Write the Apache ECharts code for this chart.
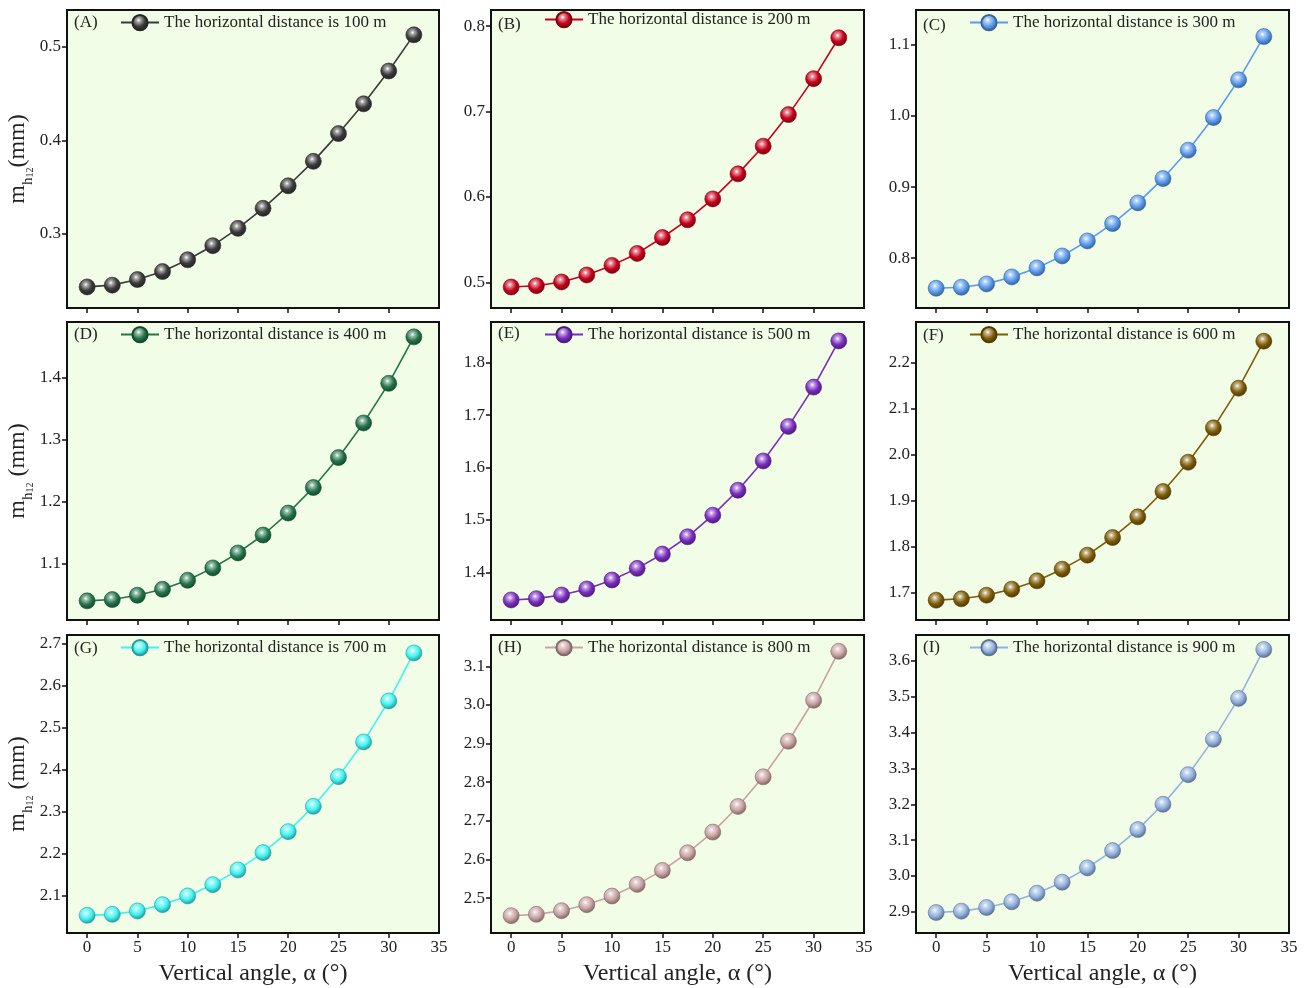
<!DOCTYPE html>
<html>
<head>
<meta charset="utf-8">
<title>Vertical angle vs m_h12</title>
<script src="https://cdn.jsdelivr.net/npm/echarts@6/dist/echarts.min.js"></script>
<style>
  html, body { margin: 0; padding: 0; background: #ffffff; }
  #chart { width: 1314px; height: 988px; }
</style>
</head>
<body>
<div id="chart"></div>
<script>
// Vertical angle (degrees) shared by every panel
const angles = [0, 2.5, 5, 7.5, 10, 12.5, 15, 17.5, 20, 22.5, 25, 27.5, 30, 32.5];

// m_h12 (mm) for each horizontal distance
const d100 = [0.2435, 0.2454, 0.2514, 0.2599, 0.2725, 0.2875, 0.3060, 0.3274, 0.3514, 0.3775, 0.4071, 0.4389, 0.4739, 0.5125];
const d200 = [0.4946, 0.4961, 0.5005, 0.5087, 0.5199, 0.5339, 0.5526, 0.5733, 0.5978, 0.6271, 0.6595, 0.6965, 0.7386, 0.7865];
const d300 = [0.7578, 0.7592, 0.7639, 0.7737, 0.7864, 0.8032, 0.8243, 0.8487, 0.8778, 0.9120, 0.9519, 0.9978, 1.0508, 1.1117];
const d400 = [1.0399, 1.0420, 1.0490, 1.0586, 1.0731, 1.0931, 1.1172, 1.1462, 1.1816, 1.2229, 1.2712, 1.3271, 1.3910, 1.4660];
const d500 = [1.3473, 1.3498, 1.3568, 1.3683, 1.3854, 1.4076, 1.4349, 1.4679, 1.5092, 1.5568, 1.6127, 1.6787, 1.7537, 1.8419];
const d600 = [1.6841, 1.6870, 1.6949, 1.7080, 1.7260, 1.7514, 1.7818, 1.8201, 1.8650, 1.9200, 1.9836, 2.0582, 2.1443, 2.2463];
const d700 = [2.0531, 2.0554, 2.0635, 2.0786, 2.0993, 2.1262, 2.1612, 2.2025, 2.2525, 2.3128, 2.3835, 2.4662, 2.5639, 2.6783];
const d800 = [2.4543, 2.4578, 2.4672, 2.4828, 2.5052, 2.5353, 2.5716, 2.6172, 2.6707, 2.7371, 2.8138, 2.9060, 3.0121, 3.1388];
const d900 = [2.8981, 2.9019, 2.9121, 2.9279, 2.9520, 2.9826, 3.0226, 3.0708, 3.1293, 3.1999, 3.2826, 3.3810, 3.4952, 3.6316];

// Panel captions and legend names
const panelTags = ['(A)', '(B)', '(C)', '(D)', '(E)', '(F)', '(G)', '(H)', '(I)'];
const distances = [100, 200, 300, 400, 500, 600, 700, 800, 900];

// Axis tick labels
const xTicks = [0, 5, 10, 15, 20, 25, 30, 35];
const yTicks = [
  [0.3, 0.4, 0.5],
  [0.5, 0.6, 0.7, 0.8],
  [0.8, 0.9, 1.0, 1.1],
  [1.1, 1.2, 1.3, 1.4],
  [1.4, 1.5, 1.6, 1.7, 1.8],
  [1.7, 1.8, 1.9, 2.0, 2.1, 2.2],
  [2.1, 2.2, 2.3, 2.4, 2.5, 2.6, 2.7],
  [2.5, 2.6, 2.7, 2.8, 2.9, 3.0, 3.1],
  [2.9, 3.0, 3.1, 3.2, 3.3, 3.4, 3.5, 3.6]
];
// y-axis extents of each panel
const yMin = [0.221, 0.470, 0.730, 1.009, 1.309, 1.641, 2.011, 2.4095, 2.841];
const yMax = [0.539, 0.819, 1.149, 1.490, 1.878, 2.288, 2.721, 3.181, 3.672];

const seriesData = [d100, d200, d300, d400, d500, d600, d700, d800, d900];
const seriesColors = ['#3a3a3a', '#c8001a', '#5b9bef', '#23744a', '#7a2cc0', '#7f5c06', '#3ff2f2', '#c9a3a3', '#92b2e0'];

const FONT = '"Liberation Serif", "Times New Roman", serif';

// layout of the 3 x 3 panel grid (pixels)
const colLeft = [67, 491, 916];
const rowTop = [10, 322, 635];
const panelW = 373;
const panelH = 298;
// small per-panel nudges of the legend and caption rows
const legendDy = [4, 1, 4, 4, 4, 4, 4, 4, 4];
const tagDy = [4, 6, 7, 4, 3, 5, 5, 4, 4];

function mix(hex, target, t) {
  const n = parseInt(hex.slice(1), 16);
  const r = (n >> 16) & 255, g = (n >> 8) & 255, b = n & 255;
  const m = (c) => Math.round(c + (target - c) * t);
  return 'rgb(' + m(r) + ',' + m(g) + ',' + m(b) + ')';
}

// shaded sphere fill for the markers
function sphere(hex) {
  return {
    type: 'radial', x: 0.42, y: 0.36, r: 0.68,
    colorStops: [
      { offset: 0, color: '#ffffff' },
      { offset: 0.18, color: mix(hex, 255, 0.55) },
      { offset: 0.55, color: hex },
      { offset: 1, color: mix(hex, 0, 0.45) }
    ]
  };
}

const grid = [], xAxis = [], yAxis = [], series = [], legend = [], title = [];

for (let i = 0; i < 9; i++) {
  const row = Math.floor(i / 3), col = i % 3;
  const left = colLeft[col], top = rowTop[row];
  const color = seriesColors[i];
  const name = 'The horizontal distance is ' + distances[i] + ' m';

  grid.push({
    left: left, top: top, width: panelW - (col === 0 ? 1 : 0), height: panelH,
    show: true, backgroundColor: '#f2fde7', borderColor: '#111', borderWidth: 2,
    containLabel: false, outerBoundsMode: 'none'
  });

  xAxis.push({
    type: 'value', gridIndex: i, min: -2, max: 35,
    axisLine: { show: true, onZero: false, lineStyle: { color: '#111', width: 2 } },
    axisTick: { show: true, inside: false, length: 5, customValues: xTicks.slice(0, 7), lineStyle: { color: '#111', width: 1.5 } },
    axisLabel: {
      show: row === 2, customValues: xTicks, margin: 6,
      fontFamily: FONT, fontSize: 17, color: '#222'
    },
    splitLine: { show: false },
    name: row === 2 ? 'Vertical angle, α (°)' : '',
    nameLocation: 'middle', nameGap: 29,
    nameTextStyle: { fontFamily: FONT, fontSize: 24, color: '#222' }
  });

  yAxis.push({
    type: 'value', gridIndex: i, min: yMin[i], max: yMax[i],
    axisLine: { show: true, onZero: false, lineStyle: { color: '#111', width: 2 } },
    axisTick: { show: true, inside: false, length: 5, customValues: yTicks[i], lineStyle: { color: '#111', width: 1.5 } },
    axisLabel: {
      show: true, customValues: yTicks[i], margin: 6,
      fontFamily: FONT, fontSize: 17, color: '#222',
      formatter: (v) => v.toFixed(1)
    },
    splitLine: { show: false },
    name: col === 0 ? (row === 0 ? '{m|m}{h|h}{s|12}{m|(mm)}' : '{m|m}{h|h}{s|12}{m| (mm)}') : '',
    nameLocation: 'middle', nameGap: 29, nameRotate: 90,
    nameTextStyle: {
      fontFamily: FONT, color: '#222',
      rich: {
        m: { fontFamily: FONT, fontSize: 24, color: '#222', lineHeight: 28 },
        h: { fontFamily: FONT, fontSize: 15, color: '#222', verticalAlign: 'bottom', lineHeight: 16, padding: [0, 0, -4, 0] },
        s: { fontFamily: FONT, fontSize: 10, color: '#222', verticalAlign: 'bottom', lineHeight: 10, padding: [0, 0, -4, 0] }
      }
    }
  });

  series.push({
    type: 'line', name: name, xAxisIndex: i, yAxisIndex: i,
    data: angles.map((a, k) => [a, seriesData[i][k]]),
    symbol: 'circle', symbolSize: 16,
    lineStyle: { color: color, width: 1.6 },
    itemStyle: { color: sphere(color), borderColor: mix(color, 0, 0.35), borderWidth: 0.6 },
    emphasis: { disabled: true },
    animation: false
  });

  legend.push({
    data: [name], left: left + 53, top: top + legendDy[i], padding: 0,
    itemWidth: 38, itemHeight: 19, itemGap: 5,
    selectedMode: false,
    textStyle: { fontFamily: FONT, fontSize: 17, color: '#222' }
  });

  title.push({
    text: panelTags[i], left: left + 7, top: top + tagDy[i], padding: 0,
    textStyle: { fontFamily: FONT, fontSize: 17, fontWeight: 'normal', color: '#222' }
  });
}

const chart = echarts.init(document.getElementById('chart'), null, { renderer: 'canvas' });
chart.setOption({
  backgroundColor: '#ffffff',
  animation: false,
  title: title,
  legend: legend,
  grid: grid,
  xAxis: xAxis,
  yAxis: yAxis,
  series: series
});
</script>
</body>
</html>
